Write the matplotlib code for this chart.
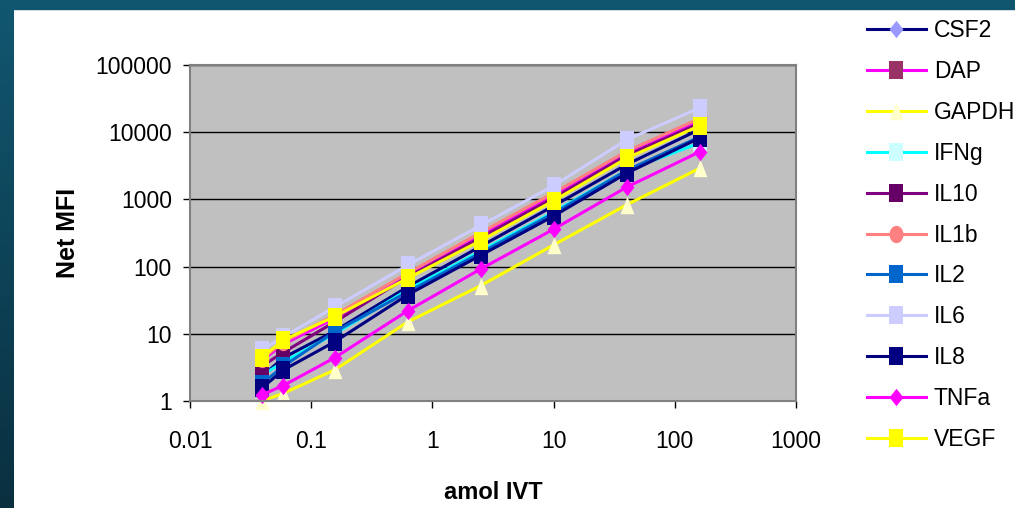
import numpy as np
import matplotlib
matplotlib.use("Agg")
import matplotlib.pyplot as plt
from matplotlib.path import Path
from matplotlib.patches import Rectangle

plt.rcParams["font.family"] = ["Liberation Sans", "DejaVu Sans"]

# amol of IVT per well
amol = [0.039, 0.059, 0.156, 0.625, 2.5, 10, 40, 160]

csf2 = [2.3, 4.4, 11, 50, 200, 800, 3300, 11000]
dap = [4.0, 7.0, 17, 75, 290, 1150, 5000, 14500]
gapdh = [1.0, 1.3, 2.9, 15, 52, 210, 830, 2900]
ifng = [2.4, 3.8, 10, 45, 170, 650, 2700, 6900]
il10 = [3.3, 5.3, 15, 70, 270, 1050, 4500, 13500]
il1b = [4.2, 7.5, 19, 80, 320, 1250, 5200, 16000]
il2 = [1.8, 3.3, 10.7, 42, 160, 620, 2700, 8500]
il6 = [5.7, 9.0, 25, 105, 410, 1600, 7700, 23000]
il8 = [1.55, 2.9, 7.6, 38, 147, 565, 2450, 8200]
tnfa = [1.23, 1.7, 4.4, 22, 92, 360, 1520, 5100]
vegf = [4.4, 8.1, 18, 67, 243, 955, 4100, 12500]

labels = ["CSF2", "DAP", "GAPDH", "IFNg", "IL10", "IL1b", "IL2", "IL6", "IL8", "TNFa", "VEGF"]
series = [csf2, dap, gapdh, ifng, il10, il1b, il2, il6, il8, tnfa, vegf]


def tall(verts):
    # markers are a bit taller than wide
    return Path([(x * 0.8, y) for x, y in verts] + [verts[0]], closed=True)


sq = tall([(-0.5, -0.5), (0.5, -0.5), (0.5, 0.5), (-0.5, 0.5)])
dia = tall([(0, -0.5), (0.5, 0), (0, 0.5), (-0.5, 0)])
tri = tall([(-0.5, -0.5), (0.5, -0.5), (0, 0.5)])
t = np.linspace(0, 2 * np.pi, 40)
circ = tall(list(zip(0.5 * np.cos(t), 0.5 * np.sin(t))))

# (line colour, marker, marker colour)
styles = [
    ("#000080", dia, "#9999ff"),
    ("#ff00ff", sq, "#993366"),
    ("#ffff00", tri, "#ffffcc"),
    ("#00ffff", sq, "#ccffff"),
    ("#800080", sq, "#660066"),
    ("#ff8080", circ, "#ff8080"),
    ("#0066cc", sq, "#0066cc"),
    ("#ccccff", sq, "#ccccff"),
    ("#000080", sq, "#000080"),
    ("#ff00ff", dia, "#ff00ff"),
    ("#ffff00", sq, "#ffff00"),
]

fig = plt.figure(figsize=(10.15, 5.08), dpi=100)
fig.patch.set_facecolor("white")

# dark frame on top and left edge
fig.patches.append(Rectangle((0, 1 - 9 / 508), 1, 9 / 508, transform=fig.transFigure,
                             color="#11566f", zorder=0))
side = fig.add_axes([0, 0, 14 / 1015, 1 - 9 / 508])
side.imshow(np.linspace(0, 1, 100).reshape(-1, 1), aspect="auto",
            cmap=matplotlib.colors.LinearSegmentedColormap.from_list("edge", ["#11566f", "#0a3040"]))
side.axis("off")

ax = fig.add_axes([190 / 1015, 1 - 401 / 508, 606 / 1015, 336 / 508])
ax.set_facecolor("#c0c0c0")

for vals, lab, (lc, mk, mc) in zip(series, labels, styles):
    ax.plot(amol, vals, color=lc, lw=2.2, marker=mk, ms=12.5, mfc=mc, mec=mc, mew=0,
            label=lab, clip_on=False)

ax.set_xscale("log")
ax.set_yscale("log")
ax.set_xlim(0.01, 1000)
ax.set_ylim(1, 100000)
ax.minorticks_off()
ax.set_xticks([0.01, 0.1, 1, 10, 100, 1000])
ax.set_xticklabels(["0.01", "0.1", "1", "10", "100", "1000"])
ax.set_yticks([1, 10, 100, 1000, 10000, 100000])
ax.set_yticklabels(["1", "10", "100", "1000", "10000", "100000"])
ax.grid(True, axis="y", color="black", lw=1)
ax.set_axisbelow(True)
for s in ax.spines.values():
    s.set_color("#808080")
    s.set_linewidth(1.5)
ax.tick_params(axis="y", length=5, width=1, labelsize=16.5, pad=8)
ax.tick_params(axis="x", length=5, width=1, labelsize=16.5, pad=16)

ax.set_ylabel("Net MFI", fontsize=18, fontweight="bold", labelpad=11)
ax.set_xlabel("amol IVT", fontsize=17, fontweight="bold", labelpad=20)

fig.legend(loc="upper left", bbox_to_anchor=(858 / 1015, 1 - 10 / 508), frameon=False,
           fontsize=16.5, handlelength=2.55, handletextpad=0.35, labelspacing=0.78,
           borderaxespad=0)

fig.savefig("out.png", dpi=100)
